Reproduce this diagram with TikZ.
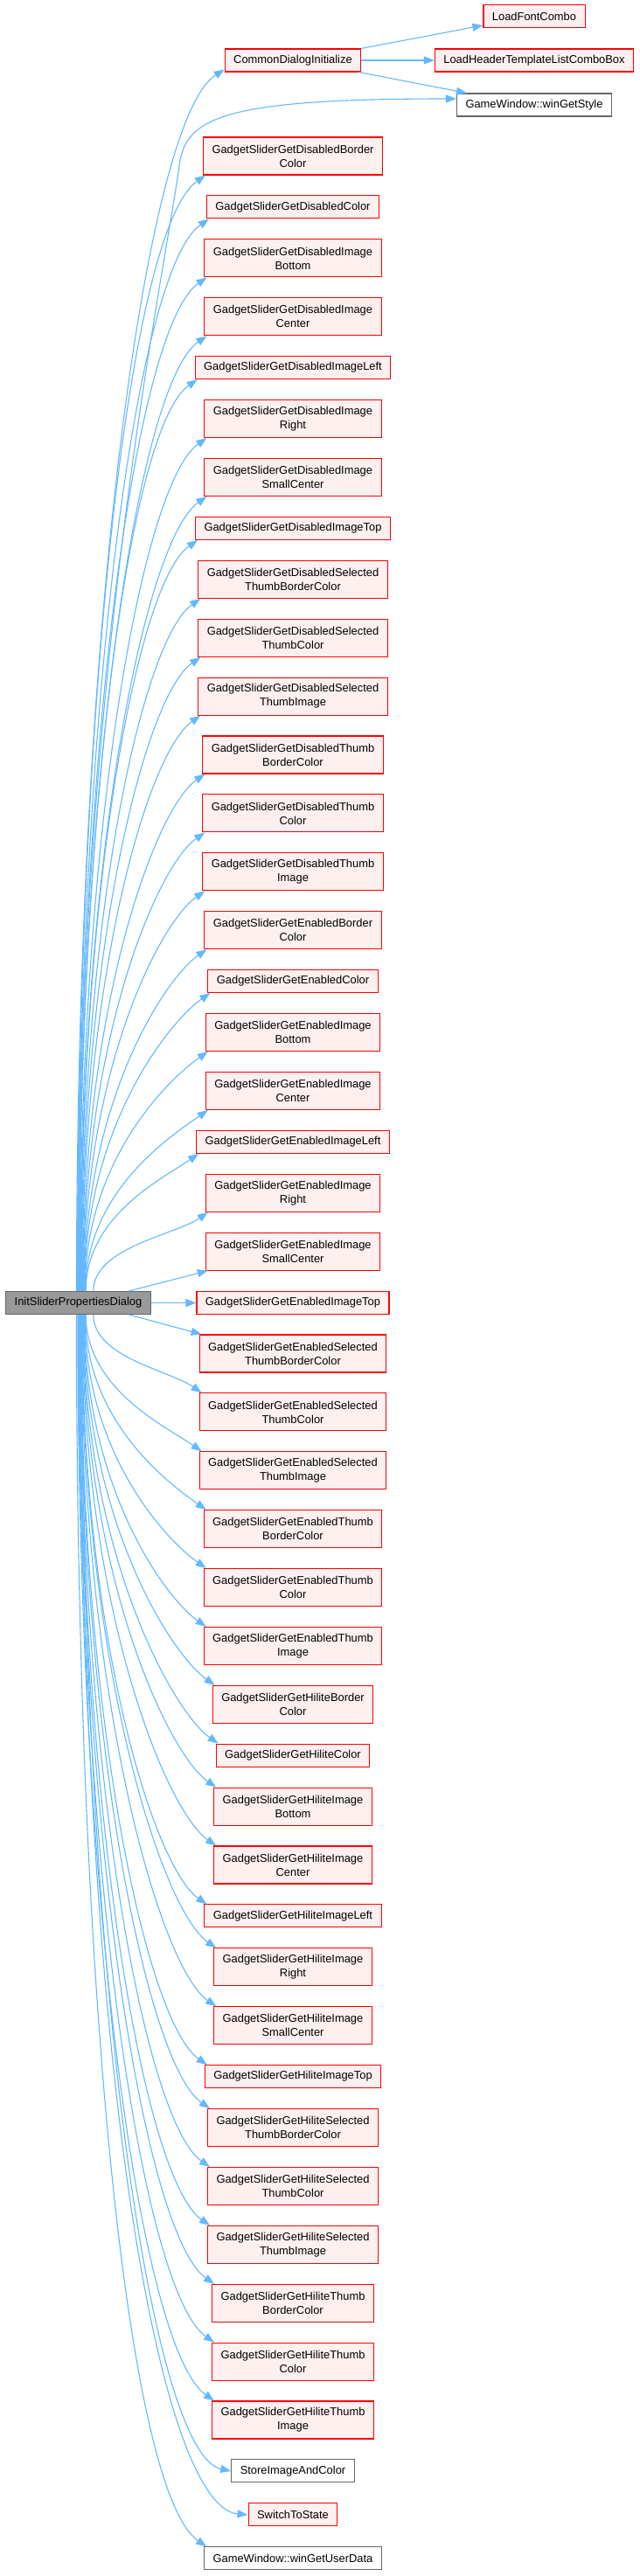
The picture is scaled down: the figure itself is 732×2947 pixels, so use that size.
\documentclass[tikz,border=0pt]{standalone}
\usepackage{fontspec}
\setmainfont{Liberation Sans}
\usetikzlibrary{arrows.meta,calc}
\definecolor{edgeblue}{HTML}{63B8FF}
\definecolor{fillred}{HTML}{FFF0F0}
\definecolor{greyforty}{HTML}{666666}
\definecolor{rootfill}{HTML}{999999}
\tikzset{
  base/.style={draw, line width=1.1bp, inner xsep=10bp, inner ysep=2bp, minimum height=26bp, align=center, font=\fontsize{12.9bp}{16bp}\selectfont},
  redn/.style={base, draw=red, fill=fillred},
  grayn/.style={base, draw=greyforty, fill=white},
  rootn/.style={base, draw=greyforty, fill=rootfill},
  two/.style={minimum height=43bp},
  edge/.style={draw=edgeblue, line width=1.1bp, -{Triangle[length=12bp,width=9bp]}}
}
\begin{document}
\begin{tikzpicture}[x=1bp,y=1bp]
\useasboundingbox (0,0) rectangle (732,-2947);
% top nodes
\node[redn] (lfc) at (611,-18.5) {LoadFontCombo};
\node[redn] (cdi) at (335,-69) {CommonDialogInitialize};
\node[redn] (lht) at (611,-69) {LoadHeaderTemplateListComboBox};
\node[grayn] (wgs) at (611,-120) {GameWindow::winGetStyle};
\node[rootn] (init) at (89.5,-1490.5) {InitSliderPropertiesDialog};
% column
\node[redn,two] (r3) at (335,-178.5) {GadgetSliderGetDisabledBorder\\Color};
\node[redn] (r4) at (335,-236.9) {GadgetSliderGetDisabledColor};
\node[redn,two] (r5) at (335,-295.4) {GadgetSliderGetDisabledImage\\Bottom};
\node[redn,two] (r6) at (335,-362.3) {GadgetSliderGetDisabledImage\\Center};
\node[redn] (r7) at (335,-420.6) {GadgetSliderGetDisabledImageLeft};
\node[redn,two] (r8) at (335,-479.1) {GadgetSliderGetDisabledImage\\Right};
\node[redn,two] (r9) at (335,-546.0) {GadgetSliderGetDisabledImage\\SmallCenter};
\node[redn] (r10) at (335,-604.4) {GadgetSliderGetDisabledImageTop};
\node[redn,two] (r11) at (335,-662.9) {GadgetSliderGetDisabledSelected\\ThumbBorderColor};
\node[redn,two] (r12) at (335,-729.8) {GadgetSliderGetDisabledSelected\\ThumbColor};
\node[redn,two] (r13) at (335,-796.6) {GadgetSliderGetDisabledSelected\\ThumbImage};
\node[redn,two] (r14) at (335,-863.5) {GadgetSliderGetDisabledThumb\\BorderColor};
\node[redn,two] (r15) at (335,-930.4) {GadgetSliderGetDisabledThumb\\Color};
\node[redn,two] (r16) at (335,-997.3) {GadgetSliderGetDisabledThumb\\Image};
\node[redn,two] (r17) at (335,-1064.1) {GadgetSliderGetEnabledBorder\\Color};
\node[redn] (r18) at (335,-1122.5) {GadgetSliderGetEnabledColor};
\node[redn,two] (r19) at (335,-1181.0) {GadgetSliderGetEnabledImage\\Bottom};
\node[redn,two] (r20) at (335,-1247.9) {GadgetSliderGetEnabledImage\\Center};
\node[redn] (r21) at (335,-1306.3) {GadgetSliderGetEnabledImageLeft};
\node[redn,two] (r22) at (335,-1364.8) {GadgetSliderGetEnabledImage\\Right};
\node[redn,two] (r23) at (335,-1431.6) {GadgetSliderGetEnabledImage\\SmallCenter};
\node[redn] (r24) at (335,-1490.5) {GadgetSliderGetEnabledImageTop};
\node[redn,two] (r25) at (335,-1548.5) {GadgetSliderGetEnabledSelected\\ThumbBorderColor};
\node[redn,two] (r26) at (335,-1615.4) {GadgetSliderGetEnabledSelected\\ThumbColor};
\node[redn,two] (r27) at (335,-1682.3) {GadgetSliderGetEnabledSelected\\ThumbImage};
\node[redn,two] (r28) at (335,-1749.1) {GadgetSliderGetEnabledThumb\\BorderColor};
\node[redn,two] (r29) at (335,-1816.0) {GadgetSliderGetEnabledThumb\\Color};
\node[redn,two] (r30) at (335,-1882.9) {GadgetSliderGetEnabledThumb\\Image};
\node[redn,two] (r31) at (335,-1949.8) {GadgetSliderGetHiliteBorder\\Color};
\node[redn] (r32) at (335,-2008.1) {GadgetSliderGetHiliteColor};
\node[redn,two] (r33) at (335,-2066.6) {GadgetSliderGetHiliteImage\\Bottom};
\node[redn,two] (r34) at (335,-2133.5) {GadgetSliderGetHiliteImage\\Center};
\node[redn] (r35) at (335,-2191.9) {GadgetSliderGetHiliteImageLeft};
\node[redn,two] (r36) at (335,-2250.4) {GadgetSliderGetHiliteImage\\Right};
\node[redn,two] (r37) at (335,-2317.3) {GadgetSliderGetHiliteImage\\SmallCenter};
\node[redn] (r38) at (335,-2375.6) {GadgetSliderGetHiliteImageTop};
\node[redn,two] (r39) at (335,-2434.1) {GadgetSliderGetHiliteSelected\\ThumbBorderColor};
\node[redn,two] (r40) at (335,-2501.0) {GadgetSliderGetHiliteSelected\\ThumbColor};
\node[redn,two] (r41) at (335,-2567.9) {GadgetSliderGetHiliteSelected\\ThumbImage};
\node[redn,two] (r42) at (335,-2634.8) {GadgetSliderGetHiliteThumb\\BorderColor};
\node[redn,two] (r43) at (335,-2701.6) {GadgetSliderGetHiliteThumb\\Color};
\node[redn,two] (r44) at (335,-2768.5) {GadgetSliderGetHiliteThumb\\Image};
\node[grayn] (r45) at (335,-2826.9) {StoreImageAndColor};
\node[redn] (r46) at (335,-2876.9) {SwitchToState};
\node[grayn] (r47) at (335,-2926.9) {GameWindow::winGetUserData};
% CommonDialogInitialize edges
\draw[edge] (cdi.north east) -- ([yshift=3bp]lfc.south west);
\draw[edge] (cdi.east) -- (lht.west);
\draw[edge] ([xshift=-3bp]cdi.south east) -- ([xshift=12bp]wgs.north west);
% Init -> CDI
\draw[edge] ([xshift=-2bp]init.north) .. controls +(90:770bp) and +(212:105bp) .. ([yshift=3bp]cdi.south west);
% Init -> winGetStyle
\coordinate (wgsbend) at (205,-190);
\draw[edge] ([xshift=-1bp]init.north) .. controls +(90:700bp) and +(262:141bp) .. (wgsbend)
  .. controls +(83:55bp) and +(180:270bp) .. ([yshift=7bp]wgs.west);
% upward edges
\foreach \r/\cy/\hh in {3/178.5/21.5, 4/236.9/13, 5/295.4/21.5, 6/362.3/21.5, 7/420.6/13, 8/479.1/21.5, 9/546.0/21.5, 10/604.4/13, 11/662.9/21.5, 12/729.8/21.5, 13/796.6/21.5, 14/863.5/21.5, 15/930.4/21.5, 16/997.3/21.5, 17/1064.1/21.5, 18/1122.5/13, 19/1181.0/21.5, 20/1247.9/21.5, 21/1306.3/13, 22/1364.8/21.5} {
  \pgfmathsetmacro\D{1477-\cy-\hh}
  \pgfmathsetmacro\sx{-2+12*(1-\D/1400)+8*(\D<120)}
  \pgfmathsetmacro\a{0.55*\D}
  \pgfmathsetmacro\b{40+0.05*\D}
  \draw[edge] ([xshift=\sx bp]init.north) .. controls +(90:\a bp) and +(215:\b bp) .. ([xshift=3bp]r\r.south west);
}
% near ones
\draw[edge] ([xshift=58bp]init.north) -- ([xshift=3bp]r23.south west);
\draw[edge] (init.east) -- (r24.west);
\draw[edge] ([xshift=58bp]init.south) -- ([xshift=3bp]r25.north west);
% downward edges
\foreach \r/\ty in {26/1593.9, 27/1660.8, 28/1727.6, 29/1794.5, 30/1861.4, 31/1928.3, 32/1995.1, 33/2045.1, 34/2112.0, 35/2178.9, 36/2228.9, 37/2295.8, 38/2362.6, 39/2412.6, 40/2479.5, 41/2546.4, 42/2613.3, 43/2680.1, 44/2747.0, 47/2913.9} {
  \pgfmathsetmacro\D{\ty-1505}
  \pgfmathsetmacro\sx{-2+12*(1-\D/1400)+8*(\D<120)}
  \pgfmathsetmacro\a{0.55*\D}
  \pgfmathsetmacro\b{40+0.05*\D}
  \draw[edge] ([xshift=\sx bp]init.south) .. controls +(-90:\a bp) and +(145:\b bp) .. ([xshift=3bp]r\r.north west);
}
% bottom special
\draw[edge] ([xshift=4bp]init.south) .. controls +(-90:800bp) and +(168:90bp) .. (r45.west);
\draw[edge] ([xshift=2bp]init.south) .. controls +(-90:880bp) and +(175:100bp) .. (r46.west);
\end{tikzpicture}
\end{document}
